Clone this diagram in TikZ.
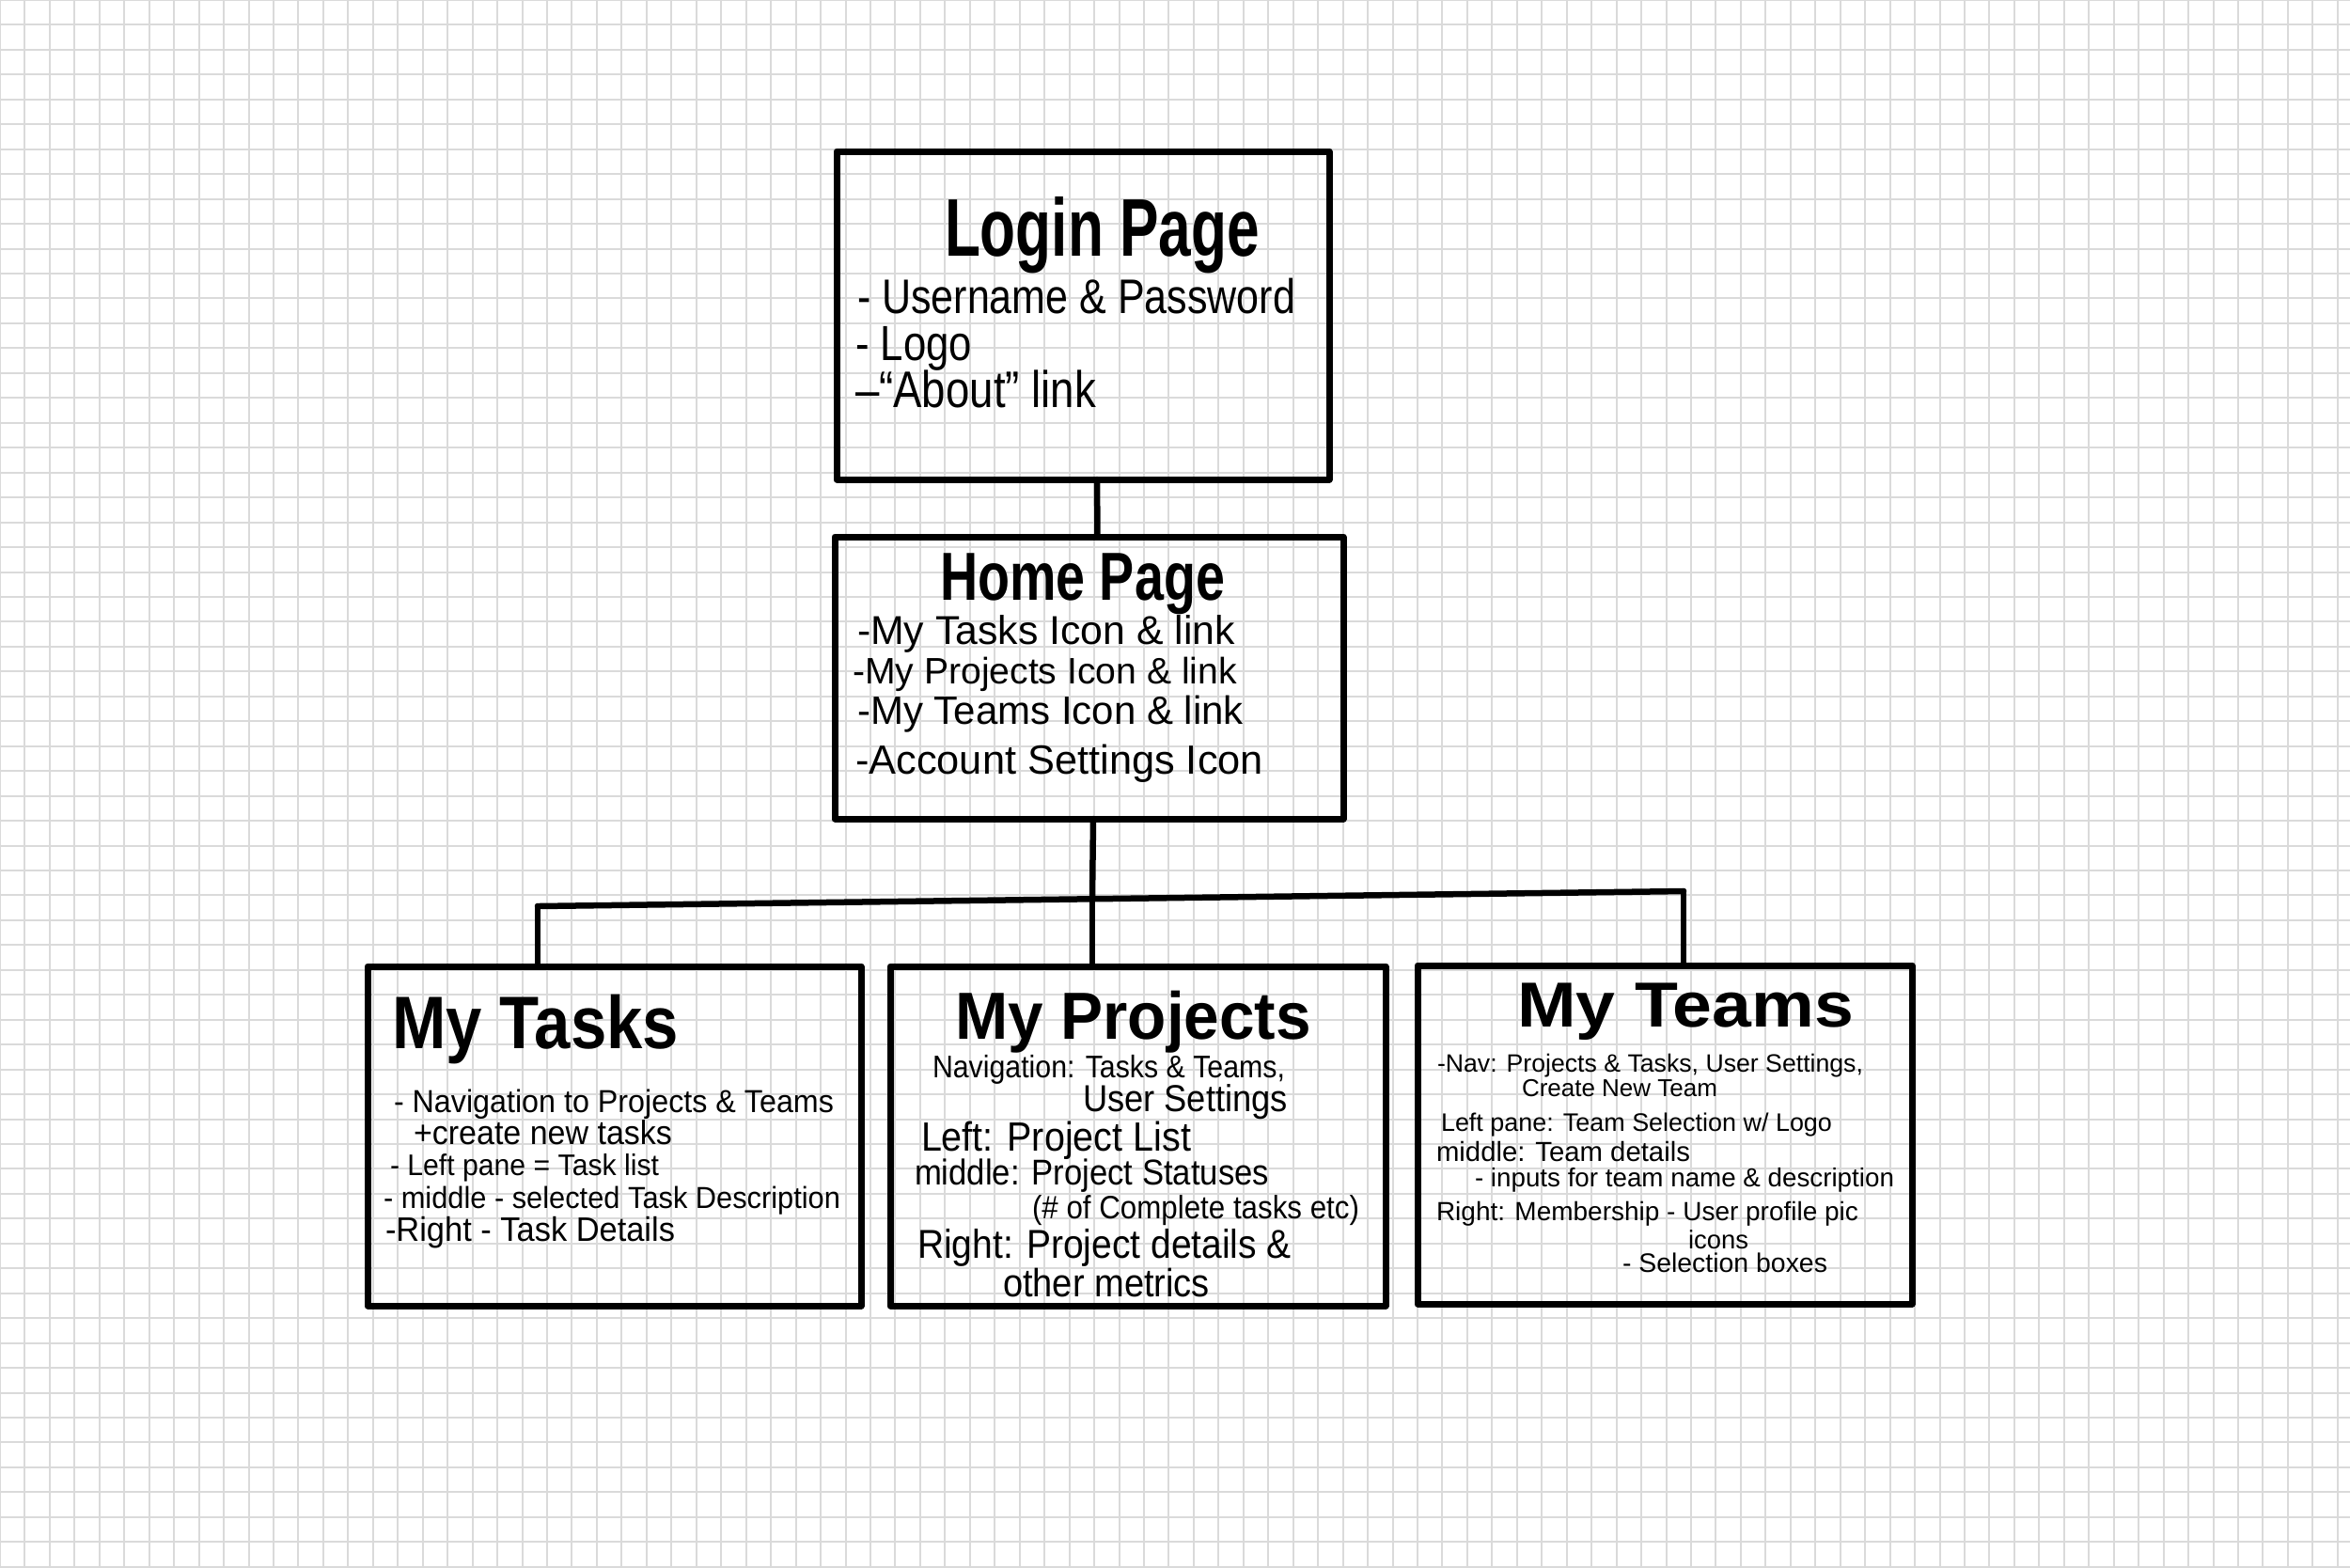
\documentclass[tikz,border=0pt]{standalone}
\usepackage{fontspec}
\setmainfont{Liberation Sans}
\usepackage{graphicx}
% one handwritten-style line, stretched to a given width (cm) with a vertical stretch factor
\newcommand{\fitline}[3]{\resizebox{#1cm}{!}{\scalebox{1}[#2]{#3}}}
% a box heading in heavy marker style: width (cm), vertical stretch, text
\newcommand{\fittitle}[3]{\resizebox{#1cm}{!}{\scalebox{1}[#2]{\bfseries #3}}}
\begin{document}
\begin{tikzpicture}[
  pagebox/.style={draw=black, line width=0.7mm, line join=round, line cap=round,
                  inner sep=0pt, outer sep=0pt, anchor=north west},
  wire/.style={draw=black, line width=0.65mm, line cap=round, line join=round},
  note/.style={anchor=base west, inner sep=0pt, outer sep=0pt, text=black},
]
% paper with a square grid
\useasboundingbox (0,0) rectangle (25,-16.67);
\fill[white] (0,0) rectangle (25,-16.67);
\draw[line width=0.2mm, color={rgb,255:red,218;green,218;blue,218}, step=0.26455]
  (0,-16.67) grid (25,0);

% pages
\node[pagebox, minimum width=5.24cm, minimum height=3.49cm] (login) at (8.90,-1.61) {};
\node[pagebox, minimum width=5.41cm, minimum height=3.00cm] (home) at (8.88,-5.71) {};
\node[pagebox, minimum width=5.25cm, minimum height=3.61cm] (tasks) at (3.91,-10.28) {};
\node[pagebox, minimum width=5.27cm, minimum height=3.61cm] (projects) at (9.47,-10.28) {};
\node[pagebox, minimum width=5.26cm, minimum height=3.60cm] (teams) at (15.08,-10.27) {};

% connectors
\draw[wire] ([xshift=1.5mm]login.south) -- ([xshift=0.9mm]home.north);
\coordinate (barL) at (5.72,-9.64);
\coordinate (barM) at (11.62,-9.56);
\coordinate (barR) at (17.91,-9.48);
\draw[wire] ([xshift=0.45mm]home.south) -- (barM);
\draw[wire] (barL) -- (barR);
\draw[wire] (barL) -- (barL |- tasks.north);
\draw[wire] (barM) -- (barM |- projects.north);
\draw[wire] (barR) -- (barR |- teams.north);

% Login Page
\node[note] (loginT) at (10.05,-2.72) {\fittitle{3.35}{1.4}{Login Page}};
\node[note] (login1) at (9.12,-3.33) {\fitline{4.66}{1.2}{- Username \& Password}};
\node[note] (login2) at (9.10,-3.83) {\fitline{1.24}{1.2}{- Logo}};
\node[note] (login3) at (9.10,-4.33) {\fitline{2.56}{1.2}{–“About” link}};

% Home Page
\node[note] (homeT) at (10.00,-6.38) {\fittitle{3.03}{1.3}{Home Page}};
\node[note] (home1) at (9.12,-6.85) {\fitline{4.02}{1.0}{-My Tasks Icon \& link}};
\node[note] (home2) at (9.07,-7.27) {\fitline{4.09}{1.0}{-My Projects Icon \& link}};
\node[note] (home3) at (9.12,-7.70) {\fitline{4.11}{1.0}{-My Teams Icon \& link}};
\node[note] (home4) at (9.10,-8.23) {\fitline{4.34}{1.0}{-Account Settings Icon}};

% My Tasks
\node[note] (tasksT) at (4.17,-11.15) {\fittitle{3.05}{1.15}{My Tasks}};
\node[note] (tasks1) at (4.19,-11.83) {\fitline{4.68}{1.05}{- Navigation to Projects \& Teams}};
\node[note] (tasks2) at (4.40,-12.17) {\fitline{2.75}{1.05}{+create new tasks}};
\node[note] (tasks3) at (4.15,-12.50) {\fitline{2.86}{1.05}{- Left pane = Task list}};
\node[note] (tasks4) at (4.08,-12.85) {\fitline{4.86}{1.05}{- middle - selected Task Description}};
\node[note] (tasks5) at (4.10,-13.20) {\fitline{3.08}{1.05}{-Right - Task Details}};

% My Projects
\node[note] (projT) at (10.16,-11.05) {\fittitle{3.79}{1.05}{My Projects}};
\node[note] (proj1) at (9.92,-11.46) {\fitline{3.75}{1.1}{Navigation: Tasks \& Teams,}};
\node[note] (proj2) at (11.52,-11.82) {\fitline{2.18}{1.1}{User Settings}};
\node[note] (proj3) at (9.80,-12.24) {\fitline{2.87}{1.1}{Left: Project List}};
\node[note] (proj4) at (9.73,-12.60) {\fitline{3.77}{1.1}{middle: Project Statuses}};
\node[note] (proj5) at (10.98,-12.96) {\fitline{3.48}{1.1}{(\# of Complete tasks etc)}};
\node[note] (proj6) at (9.76,-13.38) {\fitline{3.98}{1.1}{Right: Project details \&}};
\node[note] (proj7) at (10.67,-13.79) {\fitline{2.20}{1.1}{other metrics}};

% My Teams
\node[note] (teamsT) at (16.14,-10.92) {\fittitle{3.58}{0.9}{My Teams}};
\node[note] (teams1) at (15.29,-11.40) {\fitline{4.53}{1.0}{-Nav: Projects \& Tasks, User Settings,}};
\node[note] (teams2) at (16.19,-11.66) {\fitline{2.08}{1.0}{Create New Team}};
\node[note] (teams3) at (15.33,-12.03) {\fitline{4.16}{1.0}{Left pane: Team Selection w/ Logo}};
\node[note] (teams4) at (15.28,-12.35) {\fitline{2.70}{1.0}{middle: Team details}};
\node[note] (teams5) at (15.69,-12.62) {\fitline{4.46}{1.0}{- inputs for team name \& description}};
\node[note] (teams6) at (15.28,-12.98) {\fitline{4.49}{1.0}{Right: Membership - User profile pic}};
\node[note] (teams7) at (17.96,-13.28) {\fitline{0.64}{1.0}{icons}};
\node[note] (teams8) at (17.26,-13.53) {\fitline{2.18}{1.0}{- Selection boxes}};
\end{tikzpicture}
\end{document}
